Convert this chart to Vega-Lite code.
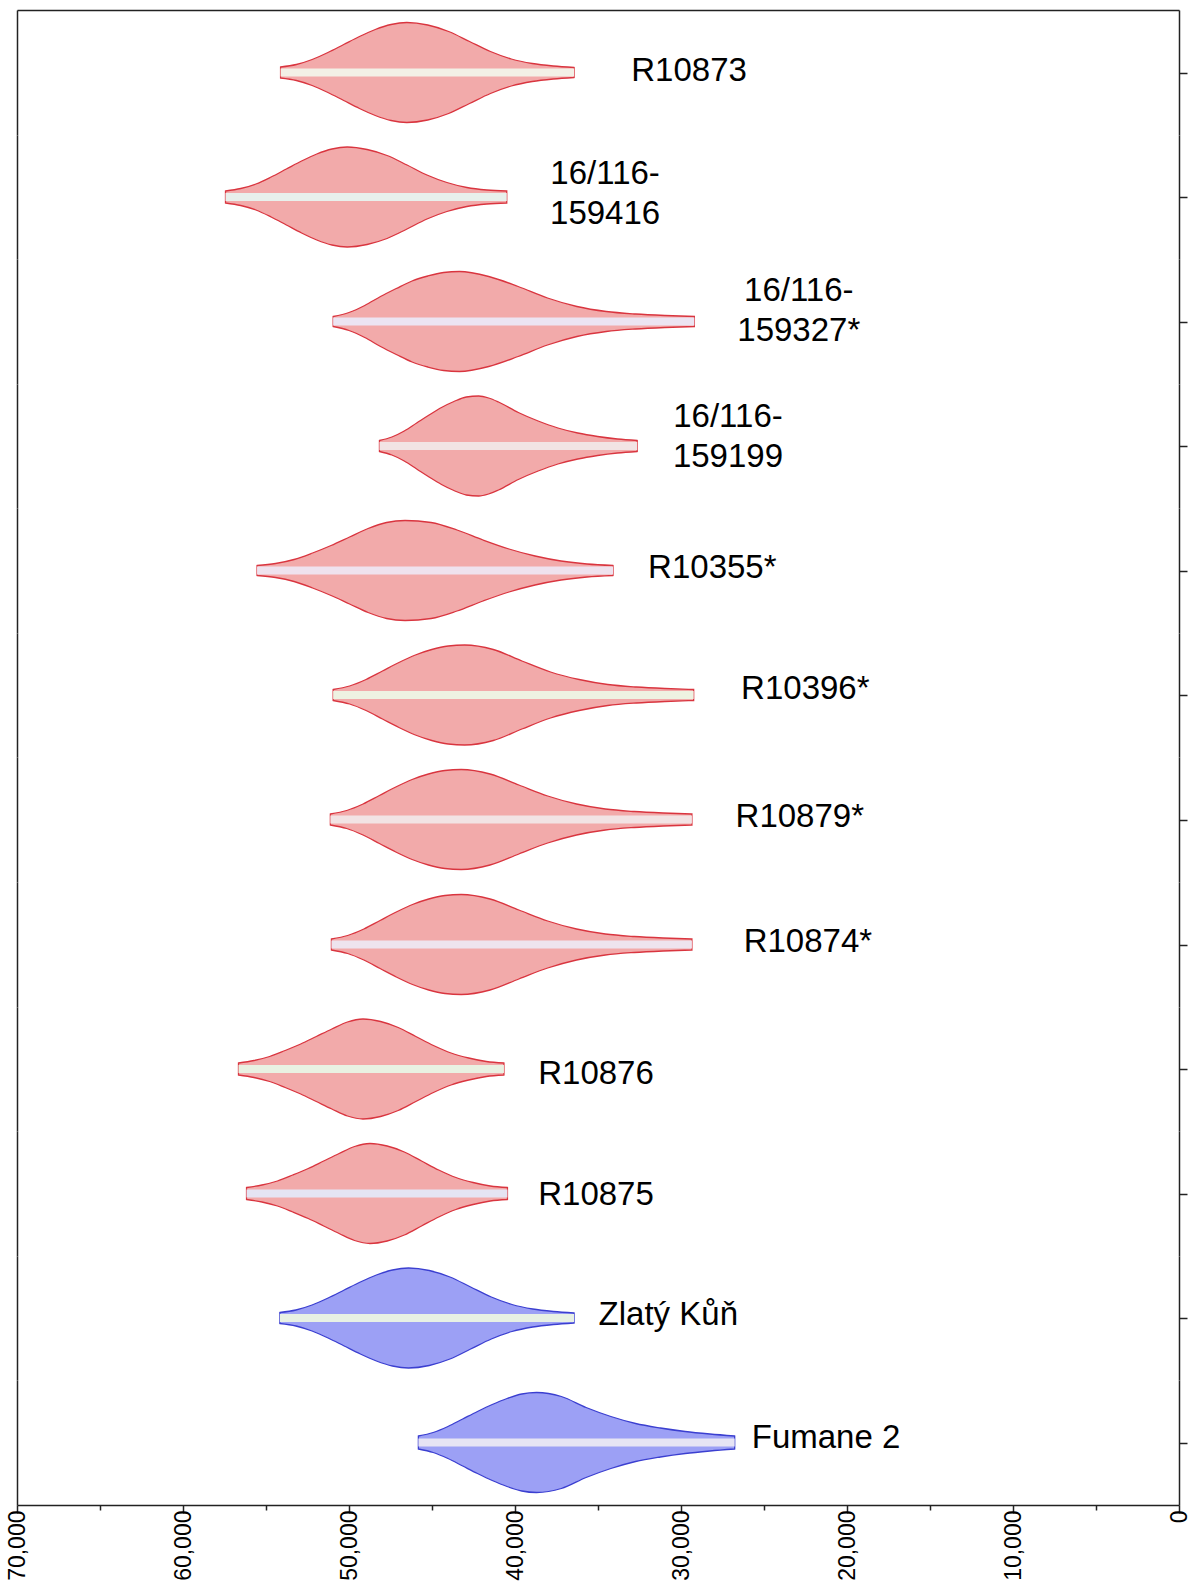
{
 "$schema": "https://vega.github.io/schema/vega-lite/v6.json",
 "padding": {"left": 6, "top": 10, "right": 3, "bottom": 3},
 "background": "white",
 "spacing": 0,
 "bounds": "flush",
 "config": {"view": {"stroke": null}, "font": "Liberation Sans",
  "axis": {"domainColor": "#222222", "domainWidth": 1.5, "tickColor": "#222222", "tickWidth": 1.5, "grid": false},
  "area": {"interpolate": "monotone", "strokeWidth": 1.3},
  "rule": {"strokeWidth": 8, "strokeCap": "butt"},
  "text": {"fontSize": 33, "font": "Liberation Sans", "color": "#000000", "align": "center", "baseline": "middle"}},
 "data": {"values": [
   {"sample":"R10873","age":54122,"density":11},{"sample":"R10873","age":53171,"density":16},{"sample":"R10873","age":52221,"density":26},{"sample":"R10873","age":51270,"density":40},{"sample":"R10873","age":50320,"density":56},{"sample":"R10873","age":49369,"density":72},{"sample":"R10873","age":48418,"density":86},{"sample":"R10873","age":47468,"density":96},{"sample":"R10873","age":46517,"density":100},{"sample":"R10873","age":45257,"density":95},{"sample":"R10873","age":43998,"density":82},{"sample":"R10873","age":42738,"density":62},{"sample":"R10873","age":41479,"density":42},{"sample":"R10873","age":40219,"density":27},{"sample":"R10873","age":38959,"density":18},{"sample":"R10873","age":37700,"density":13},{"sample":"R10873","age":36440,"density":10},
   {"sample":"16/116-159416","age":57439,"density":12},{"sample":"16/116-159416","age":56523,"density":17},{"sample":"16/116-159416","age":55607,"density":26},{"sample":"16/116-159416","age":54690,"density":40},{"sample":"16/116-159416","age":53774,"density":56},{"sample":"16/116-159416","age":52858,"density":72},{"sample":"16/116-159416","age":51942,"density":86},{"sample":"16/116-159416","age":51025,"density":96},{"sample":"16/116-159416","age":50109,"density":100},{"sample":"16/116-159416","age":48908,"density":95},{"sample":"16/116-159416","age":47706,"density":83},{"sample":"16/116-159416","age":46505,"density":64},{"sample":"16/116-159416","age":45303,"density":44},{"sample":"16/116-159416","age":44102,"density":29},{"sample":"16/116-159416","age":42900,"density":19},{"sample":"16/116-159416","age":41699,"density":14},{"sample":"16/116-159416","age":40497,"density":12},
   {"sample":"16/116-159327*","age":50954,"density":10},{"sample":"16/116-159327*","age":50003,"density":18},{"sample":"16/116-159327*","age":49053,"density":32},{"sample":"16/116-159327*","age":48102,"density":50},{"sample":"16/116-159327*","age":47152,"density":66},{"sample":"16/116-159327*","age":46201,"density":81},{"sample":"16/116-159327*","age":45250,"density":91},{"sample":"16/116-159327*","age":44300,"density":98},{"sample":"16/116-159327*","age":43349,"density":100},{"sample":"16/116-159327*","age":41580,"density":90},{"sample":"16/116-159327*","age":39811,"density":70},{"sample":"16/116-159327*","age":38041,"density":47},{"sample":"16/116-159327*","age":36272,"density":30},{"sample":"16/116-159327*","age":34503,"density":20},{"sample":"16/116-159327*","age":32734,"density":15},{"sample":"16/116-159327*","age":30964,"density":12},{"sample":"16/116-159327*","age":29195,"density":10},
   {"sample":"16/116-159199","age":48165,"density":11},{"sample":"16/116-159199","age":47418,"density":18},{"sample":"16/116-159199","age":46671,"density":30},{"sample":"16/116-159199","age":45923,"density":46},{"sample":"16/116-159199","age":45176,"density":62},{"sample":"16/116-159199","age":44429,"density":77},{"sample":"16/116-159199","age":43682,"density":89},{"sample":"16/116-159199","age":42934,"density":98},{"sample":"16/116-159199","age":42187,"density":100},{"sample":"16/116-159199","age":41590,"density":96},{"sample":"16/116-159199","age":40993,"density":88},{"sample":"16/116-159199","age":39800,"density":67},{"sample":"16/116-159199","age":38606,"density":50},{"sample":"16/116-159199","age":37413,"density":36},{"sample":"16/116-159199","age":36219,"density":26},{"sample":"16/116-159199","age":35025,"density":19},{"sample":"16/116-159199","age":33832,"density":14},{"sample":"16/116-159199","age":32638,"density":11},
   {"sample":"R10355*","age":55538,"density":10},{"sample":"R10355*","age":54424,"density":14},{"sample":"R10355*","age":53309,"density":22},{"sample":"R10355*","age":52195,"density":35},{"sample":"R10355*","age":51081,"density":50},{"sample":"R10355*","age":49966,"density":67},{"sample":"R10355*","age":48852,"density":84},{"sample":"R10355*","age":47737,"density":96},{"sample":"R10355*","age":46623,"density":100},{"sample":"R10355*","age":45057,"density":96},{"sample":"R10355*","age":43491,"density":81},{"sample":"R10355*","age":41925,"density":61},{"sample":"R10355*","age":40360,"density":43},{"sample":"R10355*","age":38794,"density":29},{"sample":"R10355*","age":37228,"density":19},{"sample":"R10355*","age":35662,"density":13},{"sample":"R10355*","age":34096,"density":10},
   {"sample":"R10396*","age":50954,"density":11},{"sample":"R10396*","age":49964,"density":18},{"sample":"R10396*","age":48973,"density":31},{"sample":"R10396*","age":47983,"density":48},{"sample":"R10396*","age":46993,"density":65},{"sample":"R10396*","age":46003,"density":80},{"sample":"R10396*","age":45013,"density":91},{"sample":"R10396*","age":44022,"density":98},{"sample":"R10396*","age":43032,"density":100},{"sample":"R10396*","age":41308,"density":91},{"sample":"R10396*","age":39583,"density":68},{"sample":"R10396*","age":37859,"density":46},{"sample":"R10396*","age":36135,"density":31},{"sample":"R10396*","age":34410,"density":21},{"sample":"R10396*","age":32686,"density":16},{"sample":"R10396*","age":30961,"density":13},{"sample":"R10396*","age":29237,"density":11},
   {"sample":"R10879*","age":51123,"density":11},{"sample":"R10879*","age":50138,"density":18},{"sample":"R10879*","age":49153,"density":31},{"sample":"R10879*","age":48168,"density":48},{"sample":"R10879*","age":47183,"density":65},{"sample":"R10879*","age":46198,"density":80},{"sample":"R10879*","age":45213,"density":91},{"sample":"R10879*","age":44228,"density":98},{"sample":"R10879*","age":43243,"density":100},{"sample":"R10879*","age":41506,"density":91},{"sample":"R10879*","age":39768,"density":69},{"sample":"R10879*","age":38031,"density":47},{"sample":"R10879*","age":36293,"density":31},{"sample":"R10879*","age":34556,"density":21},{"sample":"R10879*","age":32818,"density":16},{"sample":"R10879*","age":31081,"density":13},{"sample":"R10879*","age":29343,"density":11},
   {"sample":"R10874*","age":51059,"density":11},{"sample":"R10874*","age":50082,"density":18},{"sample":"R10874*","age":49105,"density":31},{"sample":"R10874*","age":48128,"density":48},{"sample":"R10874*","age":47151,"density":65},{"sample":"R10874*","age":46174,"density":80},{"sample":"R10874*","age":45197,"density":91},{"sample":"R10874*","age":44220,"density":98},{"sample":"R10874*","age":43243,"density":100},{"sample":"R10874*","age":41506,"density":91},{"sample":"R10874*","age":39768,"density":69},{"sample":"R10874*","age":38031,"density":47},{"sample":"R10874*","age":36293,"density":31},{"sample":"R10874*","age":34556,"density":21},{"sample":"R10874*","age":32818,"density":16},{"sample":"R10874*","age":31081,"density":13},{"sample":"R10874*","age":29343,"density":11},
   {"sample":"R10876","age":56657,"density":12},{"sample":"R10876","age":55720,"density":17},{"sample":"R10876","age":54782,"density":25},{"sample":"R10876","age":53845,"density":37},{"sample":"R10876","age":52908,"density":50},{"sample":"R10876","age":51970,"density":65},{"sample":"R10876","age":51033,"density":80},{"sample":"R10876","age":50095,"density":94},{"sample":"R10876","age":49158,"density":100},{"sample":"R10876","age":48097,"density":95},{"sample":"R10876","age":47035,"density":83},{"sample":"R10876","age":45974,"density":65},{"sample":"R10876","age":44912,"density":47},{"sample":"R10876","age":43851,"density":32},{"sample":"R10876","age":42789,"density":22},{"sample":"R10876","age":41728,"density":15},{"sample":"R10876","age":40666,"density":12},
   {"sample":"R10875","age":56172,"density":12},{"sample":"R10875","age":55243,"density":17},{"sample":"R10875","age":54313,"density":25},{"sample":"R10875","age":53384,"density":37},{"sample":"R10875","age":52454,"density":50},{"sample":"R10875","age":51525,"density":65},{"sample":"R10875","age":50595,"density":80},{"sample":"R10875","age":49666,"density":94},{"sample":"R10875","age":48736,"density":100},{"sample":"R10875","age":47701,"density":95},{"sample":"R10875","age":46666,"density":83},{"sample":"R10875","age":45631,"density":65},{"sample":"R10875","age":44596,"density":47},{"sample":"R10875","age":43560,"density":32},{"sample":"R10875","age":42525,"density":22},{"sample":"R10875","age":41490,"density":15},{"sample":"R10875","age":40455,"density":12},
   {"sample":"Zlatý Kůň","age":54165,"density":11},{"sample":"Zlatý Kůň","age":53196,"density":16},{"sample":"Zlatý Kůň","age":52227,"density":26},{"sample":"Zlatý Kůň","age":51258,"density":40},{"sample":"Zlatý Kůň","age":50289,"density":56},{"sample":"Zlatý Kůň","age":49319,"density":72},{"sample":"Zlatý Kůň","age":48350,"density":86},{"sample":"Zlatý Kůň","age":47381,"density":96},{"sample":"Zlatý Kůň","age":46412,"density":100},{"sample":"Zlatý Kůň","age":45166,"density":95},{"sample":"Zlatý Kůň","age":43919,"density":82},{"sample":"Zlatý Kůň","age":42673,"density":62},{"sample":"Zlatý Kůň","age":41427,"density":42},{"sample":"Zlatý Kůň","age":40180,"density":27},{"sample":"Zlatý Kůň","age":38934,"density":18},{"sample":"Zlatý Kůň","age":37687,"density":13},{"sample":"Zlatý Kůň","age":36440,"density":10},
   {"sample":"Fumane 2","age":45820,"density":13},{"sample":"Fumane 2","age":44930,"density":20},{"sample":"Fumane 2","age":44040,"density":32},{"sample":"Fumane 2","age":43150,"density":47},{"sample":"Fumane 2","age":42261,"density":62},{"sample":"Fumane 2","age":41371,"density":76},{"sample":"Fumane 2","age":40481,"density":88},{"sample":"Fumane 2","age":39591,"density":97},{"sample":"Fumane 2","age":38701,"density":100},{"sample":"Fumane 2","age":37209,"density":92},{"sample":"Fumane 2","age":35717,"density":70},{"sample":"Fumane 2","age":34225,"density":52},{"sample":"Fumane 2","age":32734,"density":38},{"sample":"Fumane 2","age":31242,"density":29},{"sample":"Fumane 2","age":29750,"density":22},{"sample":"Fumane 2","age":28258,"density":17},{"sample":"Fumane 2","age":26766,"density":13},
   {"sample":"R10873","label":"R10873","age":29516},
   {"sample":"16/116-159416","label":["16/116-","159416"],"age":34572},
   {"sample":"16/116-159327*","label":["16/116-","159327*"],"age":22906},
   {"sample":"16/116-159199","label":["16/116-","159199"],"age":27170},
   {"sample":"R10355*","label":"R10355*","age":28114},
   {"sample":"R10396*","label":"R10396*","age":22510},
   {"sample":"R10879*","label":"R10879*","age":22845},
   {"sample":"R10874*","label":"R10874*","age":22358},
   {"sample":"R10876","label":"R10876","age":35120},
   {"sample":"R10875","label":"R10875","age":35120},
   {"sample":"Zlatý Kůň","label":"Zlatý Kůň","age":30765},
   {"sample":"Fumane 2","label":"Fumane 2","age":21261}
 ]},
 "vconcat": [
  {"width": 1162, "height": 125, "transform": [{"filter": "datum.sample === 'R10873'"}],
   "layer": [
    {"transform": [{"filter": "datum.density != null"}], "mark": {"type": "area", "fill": "#f2aaaa", "stroke": "#d9353f"},
     "encoding": {"x": {"field": "age", "type": "quantitative", "scale": {"domain": [0, 70000], "reverse": true, "nice": false, "zero": false}, "axis": {"orient": "top", "ticks": false, "labels": false, "title": null}},
      "y": {"field": "density", "type": "quantitative", "stack": "center", "scale": {"domain": [-12.5, 112.5], "nice": false, "zero": false}, "axis": {"orient": "right", "values": [50], "labels": false, "tickSize": 8, "title": null}}}},
    {"transform": [{"filter": "datum.density != null"}], "mark": {"type": "rule", "color": "#f3f0e6"},
     "encoding": {"x": {"aggregate": "min", "field": "age", "type": "quantitative", "scale": {"domain": [0, 70000], "reverse": true, "nice": false, "zero": false}, "axis": null}, "x2": {"aggregate": "max", "field": "age"},
      "y": {"datum": 50, "type": "quantitative", "axis": {"orient": "left", "tickCount": 0, "ticks": false, "tickSize": 0, "labels": false, "domainCap": "butt", "title": null}}}},
    {"transform": [{"filter": "datum.label != null"}], "mark": {"type": "text", "dy": -2},
     "encoding": {"x": {"field": "age", "type": "quantitative", "axis": null}, "y": {"datum": 50, "type": "quantitative", "axis": null}, "text": {"field": "label"}}}
   ],
   "resolve": {"axis": {"x": "independent", "y": "independent"}}},
  {"width": 1162, "height": 124, "transform": [{"filter": "datum.sample === '16/116-159416'"}],
   "layer": [
    {"transform": [{"filter": "datum.density != null"}], "mark": {"type": "area", "fill": "#f2aaaa", "stroke": "#d9353f"},
     "encoding": {"x": {"field": "age", "type": "quantitative", "scale": {"domain": [0, 70000], "reverse": true, "nice": false, "zero": false}, "axis": null},
      "y": {"field": "density", "type": "quantitative", "stack": "center", "scale": {"domain": [-12, 112], "nice": false, "zero": false}, "axis": {"orient": "right", "values": [50], "labels": false, "tickSize": 8, "title": null}}}},
    {"transform": [{"filter": "datum.density != null"}], "mark": {"type": "rule", "color": "#e8f0ec"},
     "encoding": {"x": {"aggregate": "min", "field": "age", "type": "quantitative", "scale": {"domain": [0, 70000], "reverse": true, "nice": false, "zero": false}, "axis": null}, "x2": {"aggregate": "max", "field": "age"},
      "y": {"datum": 50, "type": "quantitative", "axis": {"orient": "left", "tickCount": 0, "ticks": false, "tickSize": 0, "labels": false, "domainCap": "butt", "title": null}}}},
    {"transform": [{"filter": "datum.label != null"}], "mark": {"type": "text", "dy": -23, "lineHeight": 40},
     "encoding": {"x": {"field": "age", "type": "quantitative", "axis": null}, "y": {"datum": 50, "type": "quantitative", "axis": null}, "text": {"field": "label"}}}
   ],
   "resolve": {"axis": {"x": "independent", "y": "independent"}}},
  {"width": 1162, "height": 125, "transform": [{"filter": "datum.sample === '16/116-159327*'"}],
   "layer": [
    {"transform": [{"filter": "datum.density != null"}], "mark": {"type": "area", "fill": "#f2aaaa", "stroke": "#d9353f"},
     "encoding": {"x": {"field": "age", "type": "quantitative", "scale": {"domain": [0, 70000], "reverse": true, "nice": false, "zero": false}, "axis": null},
      "y": {"field": "density", "type": "quantitative", "stack": "center", "scale": {"domain": [-12.5, 112.5], "nice": false, "zero": false}, "axis": {"orient": "right", "values": [50], "labels": false, "tickSize": 8, "title": null}}}},
    {"transform": [{"filter": "datum.density != null"}], "mark": {"type": "rule", "color": "#ece4f2"},
     "encoding": {"x": {"aggregate": "min", "field": "age", "type": "quantitative", "scale": {"domain": [0, 70000], "reverse": true, "nice": false, "zero": false}, "axis": null}, "x2": {"aggregate": "max", "field": "age"},
      "y": {"datum": 50, "type": "quantitative", "axis": {"orient": "left", "tickCount": 0, "ticks": false, "tickSize": 0, "labels": false, "domainCap": "butt", "title": null}}}},
    {"transform": [{"filter": "datum.label != null"}], "mark": {"type": "text", "dy": -31, "lineHeight": 40},
     "encoding": {"x": {"field": "age", "type": "quantitative", "axis": null}, "y": {"datum": 50, "type": "quantitative", "axis": null}, "text": {"field": "label"}}}
   ],
   "resolve": {"axis": {"x": "independent", "y": "independent"}}},
  {"width": 1162, "height": 124, "transform": [{"filter": "datum.sample === '16/116-159199'"}],
   "layer": [
    {"transform": [{"filter": "datum.density != null"}], "mark": {"type": "area", "fill": "#f2aaaa", "stroke": "#d9353f"},
     "encoding": {"x": {"field": "age", "type": "quantitative", "scale": {"domain": [0, 70000], "reverse": true, "nice": false, "zero": false}, "axis": null},
      "y": {"field": "density", "type": "quantitative", "stack": "center", "scale": {"domain": [-12, 112], "nice": false, "zero": false}, "axis": {"orient": "right", "values": [50], "labels": false, "tickSize": 8, "title": null}}}},
    {"transform": [{"filter": "datum.density != null"}], "mark": {"type": "rule", "color": "#f2e4e4"},
     "encoding": {"x": {"aggregate": "min", "field": "age", "type": "quantitative", "scale": {"domain": [0, 70000], "reverse": true, "nice": false, "zero": false}, "axis": null}, "x2": {"aggregate": "max", "field": "age"},
      "y": {"datum": 50, "type": "quantitative", "axis": {"orient": "left", "tickCount": 0, "ticks": false, "tickSize": 0, "labels": false, "domainCap": "butt", "title": null}}}},
    {"transform": [{"filter": "datum.label != null"}], "mark": {"type": "text", "dy": -29, "lineHeight": 40},
     "encoding": {"x": {"field": "age", "type": "quantitative", "axis": null}, "y": {"datum": 50, "type": "quantitative", "axis": null}, "text": {"field": "label"}}}
   ],
   "resolve": {"axis": {"x": "independent", "y": "independent"}}},
  {"width": 1162, "height": 125, "transform": [{"filter": "datum.sample === 'R10355*'"}],
   "layer": [
    {"transform": [{"filter": "datum.density != null"}], "mark": {"type": "area", "fill": "#f2aaaa", "stroke": "#d9353f"},
     "encoding": {"x": {"field": "age", "type": "quantitative", "scale": {"domain": [0, 70000], "reverse": true, "nice": false, "zero": false}, "axis": null},
      "y": {"field": "density", "type": "quantitative", "stack": "center", "scale": {"domain": [-12.5, 112.5], "nice": false, "zero": false}, "axis": {"orient": "right", "values": [50], "labels": false, "tickSize": 8, "title": null}}}},
    {"transform": [{"filter": "datum.density != null"}], "mark": {"type": "rule", "color": "#efe2ee"},
     "encoding": {"x": {"aggregate": "min", "field": "age", "type": "quantitative", "scale": {"domain": [0, 70000], "reverse": true, "nice": false, "zero": false}, "axis": null}, "x2": {"aggregate": "max", "field": "age"},
      "y": {"datum": 50, "type": "quantitative", "axis": {"orient": "left", "tickCount": 0, "ticks": false, "tickSize": 0, "labels": false, "domainCap": "butt", "title": null}}}},
    {"transform": [{"filter": "datum.label != null"}], "mark": {"type": "text", "dy": -3},
     "encoding": {"x": {"field": "age", "type": "quantitative", "axis": null}, "y": {"datum": 50, "type": "quantitative", "axis": null}, "text": {"field": "label"}}}
   ],
   "resolve": {"axis": {"x": "independent", "y": "independent"}}},
  {"width": 1162, "height": 124, "transform": [{"filter": "datum.sample === 'R10396*'"}],
   "layer": [
    {"transform": [{"filter": "datum.density != null"}], "mark": {"type": "area", "fill": "#f2aaaa", "stroke": "#d9353f"},
     "encoding": {"x": {"field": "age", "type": "quantitative", "scale": {"domain": [0, 70000], "reverse": true, "nice": false, "zero": false}, "axis": null},
      "y": {"field": "density", "type": "quantitative", "stack": "center", "scale": {"domain": [-12, 112], "nice": false, "zero": false}, "axis": {"orient": "right", "values": [50], "labels": false, "tickSize": 8, "title": null}}}},
    {"transform": [{"filter": "datum.density != null"}], "mark": {"type": "rule", "color": "#eef2e2"},
     "encoding": {"x": {"aggregate": "min", "field": "age", "type": "quantitative", "scale": {"domain": [0, 70000], "reverse": true, "nice": false, "zero": false}, "axis": null}, "x2": {"aggregate": "max", "field": "age"},
      "y": {"datum": 50, "type": "quantitative", "axis": {"orient": "left", "tickCount": 0, "ticks": false, "tickSize": 0, "labels": false, "domainCap": "butt", "title": null}}}},
    {"transform": [{"filter": "datum.label != null"}], "mark": {"type": "text", "dy": -6},
     "encoding": {"x": {"field": "age", "type": "quantitative", "axis": null}, "y": {"datum": 50, "type": "quantitative", "axis": null}, "text": {"field": "label"}}}
   ],
   "resolve": {"axis": {"x": "independent", "y": "independent"}}},
  {"width": 1162, "height": 125, "transform": [{"filter": "datum.sample === 'R10879*'"}],
   "layer": [
    {"transform": [{"filter": "datum.density != null"}], "mark": {"type": "area", "fill": "#f2aaaa", "stroke": "#d9353f"},
     "encoding": {"x": {"field": "age", "type": "quantitative", "scale": {"domain": [0, 70000], "reverse": true, "nice": false, "zero": false}, "axis": null},
      "y": {"field": "density", "type": "quantitative", "stack": "center", "scale": {"domain": [-12.5, 112.5], "nice": false, "zero": false}, "axis": {"orient": "right", "values": [50], "labels": false, "tickSize": 8, "title": null}}}},
    {"transform": [{"filter": "datum.density != null"}], "mark": {"type": "rule", "color": "#f2e3e4"},
     "encoding": {"x": {"aggregate": "min", "field": "age", "type": "quantitative", "scale": {"domain": [0, 70000], "reverse": true, "nice": false, "zero": false}, "axis": null}, "x2": {"aggregate": "max", "field": "age"},
      "y": {"datum": 50, "type": "quantitative", "axis": {"orient": "left", "tickCount": 0, "ticks": false, "tickSize": 0, "labels": false, "domainCap": "butt", "title": null}}}},
    {"transform": [{"filter": "datum.label != null"}], "mark": {"type": "text", "dy": -3},
     "encoding": {"x": {"field": "age", "type": "quantitative", "axis": null}, "y": {"datum": 50, "type": "quantitative", "axis": null}, "text": {"field": "label"}}}
   ],
   "resolve": {"axis": {"x": "independent", "y": "independent"}}},
  {"width": 1162, "height": 125, "transform": [{"filter": "datum.sample === 'R10874*'"}],
   "layer": [
    {"transform": [{"filter": "datum.density != null"}], "mark": {"type": "area", "fill": "#f2aaaa", "stroke": "#d9353f"},
     "encoding": {"x": {"field": "age", "type": "quantitative", "scale": {"domain": [0, 70000], "reverse": true, "nice": false, "zero": false}, "axis": null},
      "y": {"field": "density", "type": "quantitative", "stack": "center", "scale": {"domain": [-12.5, 112.5], "nice": false, "zero": false}, "axis": {"orient": "right", "values": [50], "labels": false, "tickSize": 8, "title": null}}}},
    {"transform": [{"filter": "datum.density != null"}], "mark": {"type": "rule", "color": "#eee4ee"},
     "encoding": {"x": {"aggregate": "min", "field": "age", "type": "quantitative", "scale": {"domain": [0, 70000], "reverse": true, "nice": false, "zero": false}, "axis": null}, "x2": {"aggregate": "max", "field": "age"},
      "y": {"datum": 50, "type": "quantitative", "axis": {"orient": "left", "tickCount": 0, "ticks": false, "tickSize": 0, "labels": false, "domainCap": "butt", "title": null}}}},
    {"transform": [{"filter": "datum.label != null"}], "mark": {"type": "text", "dy": -3},
     "encoding": {"x": {"field": "age", "type": "quantitative", "axis": null}, "y": {"datum": 50, "type": "quantitative", "axis": null}, "text": {"field": "label"}}}
   ],
   "resolve": {"axis": {"x": "independent", "y": "independent"}}},
  {"width": 1162, "height": 124, "transform": [{"filter": "datum.sample === 'R10876'"}],
   "layer": [
    {"transform": [{"filter": "datum.density != null"}], "mark": {"type": "area", "fill": "#f2aaaa", "stroke": "#d9353f"},
     "encoding": {"x": {"field": "age", "type": "quantitative", "scale": {"domain": [0, 70000], "reverse": true, "nice": false, "zero": false}, "axis": null},
      "y": {"field": "density", "type": "quantitative", "stack": "center", "scale": {"domain": [-12, 112], "nice": false, "zero": false}, "axis": {"orient": "right", "values": [50], "labels": false, "tickSize": 8, "title": null}}}},
    {"transform": [{"filter": "datum.density != null"}], "mark": {"type": "rule", "color": "#e9f1e2"},
     "encoding": {"x": {"aggregate": "min", "field": "age", "type": "quantitative", "scale": {"domain": [0, 70000], "reverse": true, "nice": false, "zero": false}, "axis": null}, "x2": {"aggregate": "max", "field": "age"},
      "y": {"datum": 50, "type": "quantitative", "axis": {"orient": "left", "tickCount": 0, "ticks": false, "tickSize": 0, "labels": false, "domainCap": "butt", "title": null}}}},
    {"transform": [{"filter": "datum.label != null"}], "mark": {"type": "text", "dy": 5},
     "encoding": {"x": {"field": "age", "type": "quantitative", "axis": null}, "y": {"datum": 50, "type": "quantitative", "axis": null}, "text": {"field": "label"}}}
   ],
   "resolve": {"axis": {"x": "independent", "y": "independent"}}},
  {"width": 1162, "height": 125, "transform": [{"filter": "datum.sample === 'R10875'"}],
   "layer": [
    {"transform": [{"filter": "datum.density != null"}], "mark": {"type": "area", "fill": "#f2aaaa", "stroke": "#d9353f"},
     "encoding": {"x": {"field": "age", "type": "quantitative", "scale": {"domain": [0, 70000], "reverse": true, "nice": false, "zero": false}, "axis": null},
      "y": {"field": "density", "type": "quantitative", "stack": "center", "scale": {"domain": [-12.5, 112.5], "nice": false, "zero": false}, "axis": {"orient": "right", "values": [50], "labels": false, "tickSize": 8, "title": null}}}},
    {"transform": [{"filter": "datum.density != null"}], "mark": {"type": "rule", "color": "#e5e4f3"},
     "encoding": {"x": {"aggregate": "min", "field": "age", "type": "quantitative", "scale": {"domain": [0, 70000], "reverse": true, "nice": false, "zero": false}, "axis": null}, "x2": {"aggregate": "max", "field": "age"},
      "y": {"datum": 50, "type": "quantitative", "axis": {"orient": "left", "tickCount": 0, "ticks": false, "tickSize": 0, "labels": false, "domainCap": "butt", "title": null}}}},
    {"transform": [{"filter": "datum.label != null"}], "mark": {"type": "text", "dy": 1},
     "encoding": {"x": {"field": "age", "type": "quantitative", "axis": null}, "y": {"datum": 50, "type": "quantitative", "axis": null}, "text": {"field": "label"}}}
   ],
   "resolve": {"axis": {"x": "independent", "y": "independent"}}},
  {"width": 1162, "height": 124, "transform": [{"filter": "datum.sample === 'Zlatý Kůň'"}],
   "layer": [
    {"transform": [{"filter": "datum.density != null"}], "mark": {"type": "area", "fill": "#9ca0f5", "stroke": "#3b3fd0"},
     "encoding": {"x": {"field": "age", "type": "quantitative", "scale": {"domain": [0, 70000], "reverse": true, "nice": false, "zero": false}, "axis": null},
      "y": {"field": "density", "type": "quantitative", "stack": "center", "scale": {"domain": [-12, 112], "nice": false, "zero": false}, "axis": {"orient": "right", "values": [50], "labels": false, "tickSize": 8, "title": null}}}},
    {"transform": [{"filter": "datum.density != null"}], "mark": {"type": "rule", "color": "#e8f1e4"},
     "encoding": {"x": {"aggregate": "min", "field": "age", "type": "quantitative", "scale": {"domain": [0, 70000], "reverse": true, "nice": false, "zero": false}, "axis": null}, "x2": {"aggregate": "max", "field": "age"},
      "y": {"datum": 50, "type": "quantitative", "axis": {"orient": "left", "tickCount": 0, "ticks": false, "tickSize": 0, "labels": false, "domainCap": "butt", "title": null}}}},
    {"transform": [{"filter": "datum.label != null"}], "mark": {"type": "text", "dy": -3},
     "encoding": {"x": {"field": "age", "type": "quantitative", "axis": null}, "y": {"datum": 50, "type": "quantitative", "axis": null}, "text": {"field": "label"}}}
   ],
   "resolve": {"axis": {"x": "independent", "y": "independent"}}},
  {"width": 1162, "height": 125, "transform": [{"filter": "datum.sample === 'Fumane 2'"}],
   "layer": [
    {"transform": [{"filter": "datum.density != null"}], "mark": {"type": "area", "fill": "#9ca0f5", "stroke": "#3b3fd0"},
     "encoding": {"x": {"field": "age", "type": "quantitative", "scale": {"domain": [0, 70000], "reverse": true, "nice": false, "zero": false},
       "axis": {"orient": "bottom", "values": [0,5000,10000,15000,20000,25000,30000,35000,40000,45000,50000,55000,60000,65000,70000],
        "format": ",d", "labelExpr": "datum.value % 10000 === 0 ? datum.label : ''",
        "labelAngle": 270, "labelFontSize": 23, "labelFont": "Liberation Sans", "labelColor": "#000000",
        "tickSize": {"condition": {"test": "datum.value % 10000 === 0", "value": 8}, "value": 5},
        "labelPadding": -3, "labelFlush": false, "labelOverlap": false, "title": null}},
      "y": {"field": "density", "type": "quantitative", "stack": "center", "scale": {"domain": [-12.5, 112.5], "nice": false, "zero": false}, "axis": {"orient": "right", "values": [50], "labels": false, "tickSize": 8, "title": null}}}},
    {"transform": [{"filter": "datum.density != null"}], "mark": {"type": "rule", "color": "#e6e4f4"},
     "encoding": {"x": {"aggregate": "min", "field": "age", "type": "quantitative", "scale": {"domain": [0, 70000], "reverse": true, "nice": false, "zero": false}, "axis": null}, "x2": {"aggregate": "max", "field": "age"},
      "y": {"datum": 50, "type": "quantitative", "axis": {"orient": "left", "tickCount": 0, "ticks": false, "tickSize": 0, "labels": false, "domainCap": "butt", "title": null}}}},
    {"transform": [{"filter": "datum.label != null"}], "mark": {"type": "text", "dy": -5},
     "encoding": {"x": {"field": "age", "type": "quantitative", "axis": null}, "y": {"datum": 50, "type": "quantitative", "axis": null}, "text": {"field": "label"}}}
   ],
   "resolve": {"axis": {"x": "independent", "y": "independent"}}}
 ]
}
